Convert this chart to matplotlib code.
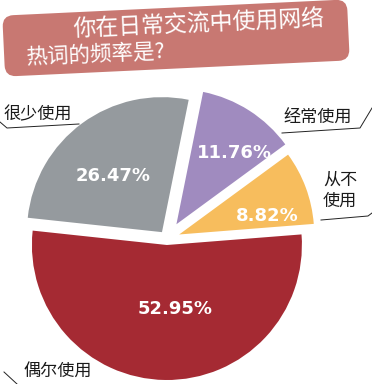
import matplotlib
matplotlib.use("Agg")
import matplotlib.pyplot as plt
from matplotlib.patches import FancyBboxPatch
from matplotlib.transforms import Affine2D

plt.rcParams['font.family'] = ['Noto Sans CJK SC', 'DejaVu Sans']

# Data
categories = ["从不使用", "经常使用", "很少使用", "偶尔使用"]
values = [8.82, 11.76, 26.47, 52.95]
colors = ["#F7BD5D", "#A08BBF", "#959A9E", "#A52A33"]
explode = [13, 17.5, 8.5, 6]   # offsets in pixels (data units)
title_lines = ["你在日常交流中使用网络", "热词的频率是?"]

W, H = 372, 384
fig = plt.figure(figsize=(W / 100, H / 100), dpi=100)
ax = fig.add_axes([0, 0, 1, 1])

def Y(y):
    return H - y

cx, cy, R = 167, Y(239), 135
wedges, _ = ax.pie(values, colors=colors, explode=explode, startangle=4.5,
                   counterclock=True, center=(cx, cy), radius=R,
                   wedgeprops=dict(linewidth=0))
ax.set_xlim(0, W)
ax.set_ylim(0, H)
ax.set_aspect('auto')
ax.axis('off')

# percentage labels
pct_pos = [(267, 216), (234, 153), (113, 176), (175, 309)]
for v, (x, y) in zip(values, pct_pos):
    ax.text(x, Y(y), f"{v:.2f}%", color="white", fontsize=13, fontweight="bold",
            family="DejaVu Sans", ha="center", va="center")

# category labels
lab_font = dict(fontsize=12.3, color="#1a1a1a", ha="left", va="center")
ax.text(3, Y(114), categories[2], **lab_font)
ax.text(283, Y(118), categories[1], **lab_font)
ax.text(323, Y(180), categories[0][:2], **lab_font)
ax.text(323, Y(201), categories[0][2:], **lab_font)
ax.text(23, Y(371), categories[3], **lab_font)

# leader lines
lk = dict(color="#222222", lw=0.7)
ax.plot([0, 7, 79], [Y(122), Y(128), Y(124)], **lk)
ax.plot([282, 360, 372], [Y(133), Y(128), Y(108)], **lk)
ax.plot([321, 368, 372], [Y(220), Y(216), Y(213)], **lk)
ax.plot([4, 17], [Y(372), Y(384)], **lk)

# title box
bx, by, bw, bh = 176, Y(38), 345, 61
rot = 2.7
box = FancyBboxPatch((bx - bw / 2, by - bh / 2), bw, bh,
                     boxstyle="round,pad=0,rounding_size=11",
                     facecolor="#C87872", edgecolor="none",
                     transform=Affine2D().rotate_deg_around(bx, by, rot) + ax.transData,
                     zorder=3)
ax.add_patch(box)
ax.text(73, Y(29), title_lines[0], color="white", fontsize=16.5, fontweight="light",
        rotation=2.5, rotation_mode="anchor", ha="left", va="center", zorder=4)
ax.text(26, Y(58), title_lines[1], color="white", fontsize=15.5, fontweight="light",
        rotation=2.5, rotation_mode="anchor", ha="left", va="center", zorder=4)

fig.savefig("out.png", dpi=100)
